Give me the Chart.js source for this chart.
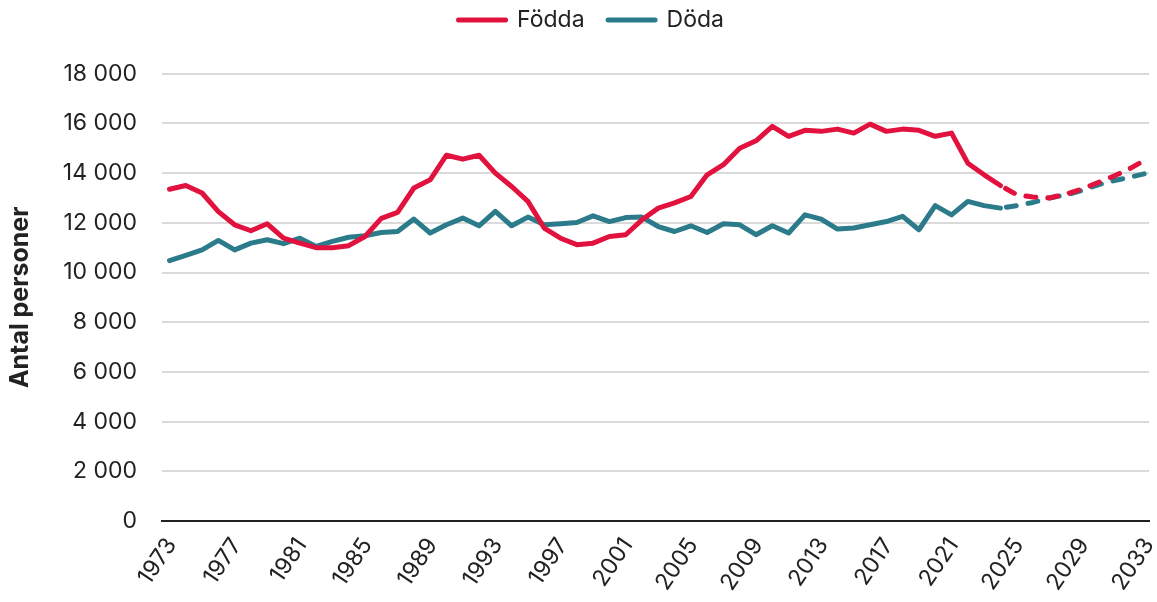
<!DOCTYPE html>
<html><head><meta charset="utf-8">
<script src="https://cdn.jsdelivr.net/npm/chart.js@4"></script>
<style>html,body{margin:0;padding:0;background:#fff}#wrap{width:1157px;height:602px;position:relative}</style>
</head><body><div id="wrap"><canvas id="c"></canvas></div>
<script>
const histYears = [1973,1974,1975,1976,1977,1978,1979,1980,1981,1982,1983,1984,1985,1986,1987,1988,1989,1990,1991,1992,1993,1994,1995,1996,1997,1998,1999,2000,2001,2002,2003,2004,2005,2006,2007,2008,2009,2010,2011,2012,2013,2014,2015,2016,2017,2018,2019,2020,2021,2022,2023,2024];
const fodda = [13350,13500,13200,12450,11920,11680,11960,11380,11180,11000,11000,11080,11450,12180,12420,13400,13730,14720,14560,14720,14000,13460,12860,11790,11380,11120,11180,11450,11520,12120,12590,12800,13060,13930,14340,15000,15300,15880,15480,15720,15680,15770,15610,15970,15680,15770,15720,15480,15610,14400,13930,13500];
const doda = [10480,10690,10910,11290,10910,11180,11320,11160,11380,11050,11250,11420,11480,11610,11650,12150,11590,11920,12190,11880,12460,11880,12230,11920,11960,12010,12280,12050,12210,12230,11850,11650,11880,11610,11960,11920,11520,11880,11590,12320,12150,11750,11790,11920,12050,12260,11720,12690,12320,12860,12690,12590];
const projYears = [2024,2025,2026,2027,2028,2029,2030,2031,2032,2033];
const foddaProg = [13500,13130,13040,13000,13150,13360,13620,13890,14200,14570];
const dodaProg = [12590,12690,12820,13000,13120,13300,13530,13700,13840,14000];
const tickYears = [1973,1977,1981,1985,1989,1993,1997,2001,2005,2009,2013,2017,2021,2025,2029,2033];
const yTicks = [0,2000,4000,6000,8000,10000,12000,14000,16000,18000];
const seriesNames = ['Födda','Döda'];

const RED = '#e2123e', TEAL = '#2b7b8b';
const FONT = 'Inter, "Noto Sans", sans-serif';
const pts = (xs, ys) => xs.map((x, i) => ({x: x, y: ys[i]}));
const fmt = v => String(v).replace(/\B(?=(\d{3})+(?!\d))/g, ' ');

const lineBase = {borderWidth: 5, pointRadius: 0, pointHoverRadius: 0, tension: 0, borderCapStyle: 'round', borderJoinStyle: 'round', fill: false};
const PADL = 33.5;

new Chart(document.getElementById('c'), {
  type: 'line',
  data: {datasets: [
    Object.assign({label: seriesNames[0], data: pts(histYears, fodda), borderColor: RED, backgroundColor: RED}, lineBase),
    Object.assign({label: seriesNames[1], data: pts(histYears, doda), borderColor: TEAL, backgroundColor: TEAL}, lineBase),
    Object.assign({label: seriesNames[0] + ' prognos', data: pts(projYears, foddaProg), borderColor: RED, backgroundColor: RED, borderDash: [10, 12], borderDashOffset: 16}, lineBase),
    Object.assign({label: seriesNames[1] + ' prognos', data: pts(projYears, dodaProg), borderColor: TEAL, backgroundColor: TEAL, borderDash: [10, 12], borderDashOffset: 16}, lineBase)
  ]},
  options: {
    responsive: true, maintainAspectRatio: false, animation: false,
    layout: {padding: {top: -15, left: PADL, right: 8, bottom: 0}},
    plugins: {
      legend: {
        position: 'top', weight: 1000,
        labels: {
          font: {family: FONT, size: 23}, color: '#222', boxWidth: 47, boxHeight: 0, padding: 23.5,
          generateLabels: (chart) => chart.data.datasets.slice(0, 2).map((ds, i) => ({
            text: ds.label, fillStyle: ds.borderColor, strokeStyle: ds.borderColor, lineWidth: 5,
            lineCap: 'round', lineJoin: 'round', datasetIndex: i, hidden: false, fontColor: '#222'
          }))
        }
      },
      title: {display: true, text: ' ', weight: 500, font: {size: 1}, padding: {top: 0, bottom: 31}},
      tooltip: {enabled: false}
    },
    scales: {
      x: {
        type: 'linear', min: 1972.54, max: 2033.12,
        grid: {display: false},
        border: {display: true, color: '#222', width: 2},
        afterBuildTicks: (axis) => { axis.ticks = tickYears.map(v => ({value: v})); },
        ticks: {autoSkip: false, minRotation: 56, maxRotation: 56, padding: 4, labelOffset: 2, font: {family: FONT, size: 23}, color: '#222', callback: (v) => String(v)},
        afterFit: (axis) => { axis.height = 81; axis.paddingLeft = 0; axis.paddingRight = 0; }
      },
      y: {
        min: 0, max: 18000,
        afterBuildTicks: (axis) => { axis.ticks = yTicks.map(v => ({value: v})); },
        grid: {color: (c) => (c.tick && c.tick.value === 0) ? '#222' : '#dadada', lineWidth: 2, drawTicks: false},
        border: {display: false},
        ticks: {padding: 25, font: {family: FONT, size: 23}, color: '#222', callback: (v) => fmt(v)},
        title: {display: true, text: 'Antal personer', font: {family: FONT, size: 25, weight: 'bold'}, color: '#222', padding: {top: -28.5, bottom: 0}},
        afterFit: (axis) => { axis.width = 162 - PADL; }
      }
    }
  }
});
</script>
</body></html>
